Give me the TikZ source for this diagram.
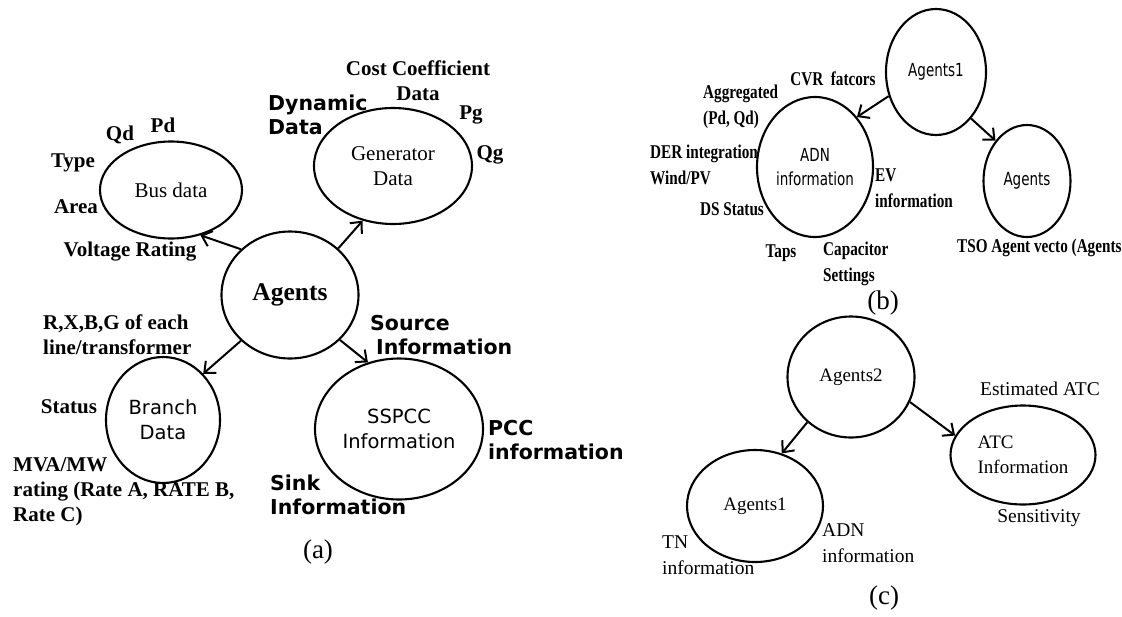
\documentclass[tikz,border=0pt]{standalone}
\usepackage{fontspec}
\setmainfont{Liberation Serif}
\newfontfamily\dvs{DejaVu Sans}
\newfontfamily\dvsc[FakeStretch=0.75]{DejaVu Sans}
\newfontfamily\lsc[FakeStretch=0.78]{Liberation Serif}
\usetikzlibrary{shapes.geometric,arrows.meta}
\tikzset{
  ell/.style={draw, ellipse, line width=2.1pt, inner sep=0pt, align=center},
  arr/.style={-{Straight Barb[length=9pt,width=16pt,line width=2pt]}, line width=2pt},
  lbA/.style={font=\fontsize{21}{25}\selectfont\bfseries, inner sep=0pt, align=left},
  lbS/.style={font=\fontsize{20.5}{24.5}\selectfont\dvs\bfseries, inner sep=0pt, align=left},
  lbB/.style={font=\fontsize{19.5}{26}\selectfont\lsc\bfseries, inner sep=0pt, align=left},
  lbC/.style={font=\fontsize{19.5}{26}\selectfont, inner sep=0pt, align=left},
  capt/.style={font=\fontsize{27}{30}\selectfont, inner sep=0pt},
  serifin/.style={font=\fontsize{21}{25}\selectfont},
  sansin/.style={font=\fontsize{19.5}{25}\selectfont\dvs},
  sansinb/.style={font=\fontsize{18}{24}\selectfont\dvsc},
  serifinc/.style={font=\fontsize{19}{25}\selectfont},
}
\begin{document}
\begin{tikzpicture}[x=1pt,y=-1pt]
\useasboundingbox (0,0) rectangle (1122,616);
% ---------- panel (a)
\node[ell, serifin, minimum width=142pt, minimum height=97pt] (bus) at (171,190) {Bus data};
\node[ell, serifin, minimum width=158pt, minimum height=116pt] (gen) at (393,166) {Generator\\Data};
\node[ell, minimum width=137pt, minimum height=127pt, font=\fontsize{25.5}{28}\selectfont\bfseries] (agA) at (290,295) {Agents};
\node[ell, sansin, minimum width=114pt, minimum height=126pt] (branch) at (163,420) {Branch\\Data};
\node[ell, sansin, minimum width=168pt, minimum height=141pt] (sspcc) at (399,429) {SSPCC\\Information};
\draw[arr] (agA.137) -- (bus.-57);
\draw[arr] (agA.44) -- (gen.241);
\draw[arr] (agA.223) -- (branch.49);
\draw[arr] (agA.-42) -- (sspcc.115);
\node[lbA] (pd) at (163,125) {Pd};
\node[lbA] (qd) at (120,135) {Qd};
\node[lbA] (type) at (73,163) {Type};
\node[lbA] (area) at (76,207) {Area};
\node[lbA] (volt) at (130,252) {Voltage Rating};
\node[lbA, align=center] (cost) at (418,81) {Cost Coefficient\\Data};
\node[lbS, anchor=west] (dyn) at (268,115) {Dynamic\\Data};
\node[lbA] (pg) at (471,115) {Pg};
\node[lbA] (qg) at (490,155) {Qg};
\node[lbA, anchor=west] (rxbg) at (43,334.5) {R,X,B,G of each\\line/transformer};
\node[lbA] (status) at (69,407) {Status};
\node[lbA, anchor=west] (mva) at (13,492) {MVA/MW\\rating (Rate A, RATE B,\\Rate C)};
\node[lbS, anchor=west] (source) at (370,335) {Source\\\hspace*{6pt}Information};
\node[lbS, anchor=west] (pcc) at (488,440) {PCC\\information};
\node[lbS, anchor=west] (sink) at (270,495) {Sink\\Information};
\node[capt] (capa) at (318,552) {(a)};
% ---------- panel (b)
\node[ell, sansinb, minimum width=100pt, minimum height=126pt] (ag1b) at (936,72) {Agents1};
\node[ell, sansinb, minimum width=116pt, minimum height=140pt] (adn) at (815,167) {ADN\\information};
\node[ell, sansinb, minimum width=87pt, minimum height=112pt] (agb) at (1027,181) {Agents};
\draw[arr] (ag1b.207) -- (adn.50);
\draw[arr] (ag1b.-53) -- (agb.128);
\node[lbB] (cvr) at (833,79) {CVR\ \ fatcors};
\node[lbB, anchor=west] (aggr) at (703,107) {Aggregated\\(Pd, Qd)};
\node[lbB, anchor=west] (der) at (650,165) {DER integration\\Wind/PV};
\node[lbB] (ds) at (732,209) {DS Status};
\node[lbB, anchor=west] (ev) at (875,188) {EV\\information};
\node[lbB] (taps) at (781,253) {Taps};
\node[lbB, anchor=west] (capac) at (823,264) {Capacitor\\Settings};
\node[lbB, anchor=west] (tso) at (957,248) {TSO Agent vecto (Agents};
\node[capt] (capb) at (883,303) {(b)};
% ---------- panel (c)
\node[ell, serifinc, minimum width=127pt, minimum height=121pt] (ag2c) at (851,377) {Agents2};
\node[ell, serifinc, minimum width=136pt, minimum height=112pt] (ag1c) at (755,506) {Agents1};
\node[ell, serifinc, align=left, minimum width=145pt, minimum height=99pt] (atc) at (1023,455) {ATC\\Information};
\draw[arr] (ag2c.226) -- (ag1c.63);
\draw[arr] (ag2c.-23) -- (atc.164);
\node[lbC] (estatc) at (1040,389) {Estimated ATC};
\node[lbC] (sens) at (1039,518) {Sensitivity};
\node[lbC, anchor=west] (tn) at (662,555) {TN\\information};
\node[lbC, anchor=west] (adnc) at (822,543) {ADN\\information};
\node[capt] (capc) at (884,598) {(c)};
\end{tikzpicture}
\end{document}
